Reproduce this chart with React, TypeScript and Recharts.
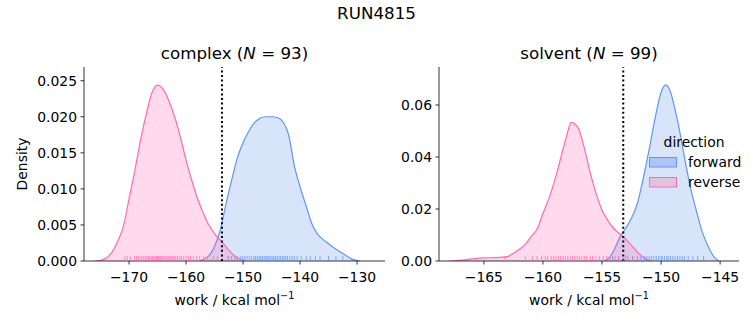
import { ComposedChart, Area, Scatter, XAxis, YAxis, ReferenceLine } from 'recharts';

// KDE curves (x = work, y = density)
const complexForwardX = [-157.5, -157, -156, -155, -154, -153, -152, -151, -150, -149, -148, -147, -146, -145, -144, -143, -142, -141, -140, -139, -138, -137, -136, -135, -134, -133, -132, -131, -130, -129.5];
const complexForwardY = [0, 0.0002, 0.0007, 0.002, 0.0043, 0.0079, 0.0112, 0.0143, 0.0164, 0.018, 0.0192, 0.0198, 0.02, 0.02, 0.0199, 0.0193, 0.0175, 0.0132, 0.0103, 0.0078, 0.0053, 0.0038, 0.003, 0.0024, 0.0018, 0.0013, 0.0008, 0.0003, 0.00005, 0];
const complexReverseX = [-176, -175, -174, -173, -172, -171, -170, -169, -168, -167, -166, -165, -164, -163, -162, -161, -160, -159, -158, -157, -156, -155, -154, -153, -152, -151, -150, -149.5];
const complexReverseY = [0, 0.0001, 0.0004, 0.0012, 0.0027, 0.0048, 0.0086, 0.0125, 0.0167, 0.0203, 0.0233, 0.0244, 0.0238, 0.0222, 0.02, 0.0172, 0.014, 0.0112, 0.0087, 0.0067, 0.005, 0.0038, 0.0029, 0.002, 0.0011, 0.0004, 0.0001, 0];

const solventForwardX = [-154.8, -154.4, -154, -153.5, -153, -152.5, -152, -151.5, -151, -150.5, -150, -149.6, -149.2, -148.8, -148.5, -148, -147.5, -147, -146.5, -146, -145.5, -145.1];
const solventForwardY = [0, 0.0012, 0.004, 0.009, 0.0125, 0.0165, 0.0222, 0.032, 0.043, 0.055, 0.0648, 0.0677, 0.065, 0.058, 0.0517, 0.0395, 0.028, 0.0192, 0.011, 0.0055, 0.0015, 0];
const solventReverseX = [-168, -167.5, -167, -166, -165, -164, -163, -162.5, -162, -161.5, -161, -160.5, -160, -159.5, -159, -158.5, -158, -157.6, -157, -156.5, -156, -155.5, -155, -154.5, -154, -153.5, -153, -152.5, -152, -151.5, -151, -150.7];
const solventReverseY = [0, 0.0001, 0.0003, 0.0008, 0.0012, 0.0013, 0.0017, 0.003, 0.0045, 0.0064, 0.0094, 0.0122, 0.0183, 0.024, 0.031, 0.0395, 0.048, 0.0533, 0.051, 0.0435, 0.034, 0.026, 0.0196, 0.0155, 0.0125, 0.0104, 0.0085, 0.006, 0.0035, 0.0014, 0.0002, 0];

// rug samples
const complexForwardRug = [-152.6, -152.0, -151.4, -151.0, -150.5, -150.1, -149.7, -149.3, -148.9, -148.5, -148.1, -147.8, -147.5, -147.2, -146.9, -146.6, -146.3, -146.0, -145.8, -145.5, -145.2, -144.9, -144.6, -144.3, -144.0, -143.7, -143.4, -143.1, -142.8, -142.5, -142.2, -141.8, -141.4, -141.0, -140.5, -139.8, -138.9, -138.2, -137.3, -136.5, -135.0, -133.7, -132.5];
const complexReverseRug = [-170.7, -170.3, -169.8, -169.0, -168.7, -168.4, -168.1, -167.8, -167.5, -167.2, -166.9, -166.6, -166.4, -166.1, -165.9, -165.6, -165.4, -165.2, -165.0, -164.8, -164.6, -164.4, -164.2, -164.0, -163.7, -163.5, -163.2, -163.0, -162.7, -162.4, -162.1, -161.8, -161.5, -161.1, -160.8, -160.4, -160.0, -159.6, -159.2, -158.7, -158.2, -157.6, -156.9, -156.3, -155.2, -154.5, -152.6];
const solventForwardRug = [-154.1, -153.6, -153.2, -152.8, -152.4, -152.0, -151.7, -151.4, -151.2, -151.0, -150.8, -150.6, -150.4, -150.2, -150.0, -149.9, -149.7, -149.5, -149.4, -149.2, -149.0, -148.8, -148.6, -148.4, -148.2, -148.0, -147.7, -147.3, -146.9, -146.4];
const solventReverseRug = [-163.2, -161.5, -160.9, -160.5, -160.1, -159.8, -159.6, -159.3, -159.1, -158.9, -158.7, -158.5, -158.3, -158.1, -157.9, -157.7, -157.5, -157.3, -157.1, -156.9, -156.7, -156.5, -156.3, -156.0, -155.8, -155.5, -155.2, -154.9, -154.6, -154.3, -153.9, -153.6, -153.0, -152.4];

const complexTicksX = [-170, -160, -150, -140, -130];
const complexTicksY = [0, 0.005, 0.01, 0.015, 0.02, 0.025];
const solventTicksX = [-165, -160, -155, -150, -145];
const solventTicksY = [0, 0.02, 0.04, 0.06];

const complexMean = -153.7;
const solventMean = -153.2;

const FWD = '#6495ED';
const REV = '#FF69B4';
const FONT = 'DejaVu Sans, sans-serif';

const toRows = (xs: number[], ys: number[]) => xs.map((x, i) => ({ x, y: ys[i] }));
const toRug = (xs: number[]) => xs.map((x) => ({ x, y: 0 }));
const minus = (v: number) => String(v).replace('-', '\u2212');

const rugShape = (color: string) => (props: any) => (
  <line x1={props.cx} x2={props.cx} y1={props.cy} y2={props.cy - 5} stroke={color} strokeOpacity={0.75} strokeWidth={1} />
);

const xLabel = (props: any) => {
  const vb = props.viewBox;
  return (
    <text x={vb.x + vb.width / 2} y={305} textAnchor="middle" fontSize={13.9} fontFamily={FONT} fill="#000">
      <tspan>work / kcal mol</tspan>
      <tspan fontSize={9.7} dy={-6}>{'\u22121'}</tspan>
    </text>
  );
};

const densityLabel = () => (
  <text x={22} y={164} transform="rotate(-90 22 164)" textAnchor="middle" dominantBaseline="central" fontSize={13.9} fontFamily={FONT} fill="#000">
    Density
  </text>
);

const tickStyle = { fill: '#000', fontSize: 13.9, fontFamily: FONT };

function Panel(props: {
  left: number; width: number; yAxisWidth: number; marginRight: number;
  domainX: [number, number]; domainY: [number, number]; ticksX: number[]; ticksY: number[]; digits: number;
  fwd: { x: number; y: number }[]; rev: { x: number; y: number }[];
  fwdRug: { x: number; y: number }[]; revRug: { x: number; y: number }[];
  mean: number; showYLabel: boolean;
}) {
  return (
    <div style={{ position: 'absolute', left: props.left, top: 0 }}>
      <ComposedChart width={props.width} height={325} margin={{ top: 67, right: props.marginRight, bottom: 24, left: 0 }}>
        <XAxis type="number" dataKey="x" domain={props.domainX} ticks={props.ticksX} allowDataOverflow
          tickFormatter={minus} tick={tickStyle} tickSize={3.5} tickMargin={8} height={40}
          axisLine={{ stroke: '#000', strokeWidth: 0.8 }} tickLine={{ stroke: '#000', strokeWidth: 0.8 }}
          label={xLabel} />
        <YAxis type="number" dataKey="y" domain={props.domainY} ticks={props.ticksY} allowDataOverflow
          tickFormatter={(v: number) => v.toFixed(props.digits)} tick={tickStyle} tickSize={3.5} tickMargin={3.5}
          width={props.yAxisWidth} axisLine={{ stroke: '#000', strokeWidth: 0.8 }} tickLine={{ stroke: '#000', strokeWidth: 0.8 }}
          label={props.showYLabel ? densityLabel : undefined} />
        <Area data={props.fwd} dataKey="y" type="monotone" stroke={FWD} strokeWidth={1.2} fill={FWD} fillOpacity={0.25} isAnimationActive={false} />
        <Area data={props.rev} dataKey="y" type="monotone" stroke={REV} strokeWidth={1.2} fill={REV} fillOpacity={0.25} isAnimationActive={false} />
        <Scatter data={props.fwdRug} dataKey="y" shape={rugShape(FWD)} isAnimationActive={false} />
        <Scatter data={props.revRug} dataKey="y" shape={rugShape(REV)} isAnimationActive={false} />
        <ReferenceLine x={props.mean} stroke="#000" strokeWidth={2} strokeDasharray="2 2.6" />
      </ComposedChart>
    </div>
  );
}

export default function App() {
  return (
    <div style={{ position: 'absolute', left: 0, top: 0, width: 753, height: 325, background: '#fff', fontFamily: FONT }}>
      <div style={{ position: 'absolute', left: 0, width: 753, top: 3, textAlign: 'center', fontSize: 16.7, lineHeight: '20px' }}>RUN4815</div>
      <div style={{ position: 'absolute', left: 84, width: 301, top: 43, textAlign: 'center', fontSize: 16.7, lineHeight: '20px' }}>
        complex (<i>N</i> = 93)
      </div>
      <div style={{ position: 'absolute', left: 439, width: 300, top: 43, textAlign: 'center', fontSize: 16.7, lineHeight: '20px' }}>
        solvent (<i>N</i> = 99)
      </div>
      <Panel left={0} width={400} yAxisWidth={84} marginRight={15}
        domainX={[-177.9, -125.1]} domainY={[0, 0.0269]} ticksX={complexTicksX} ticksY={complexTicksY} digits={3}
        fwd={toRows(complexForwardX, complexForwardY)} rev={toRows(complexReverseX, complexReverseY)}
        fwdRug={toRug(complexForwardRug)} revRug={toRug(complexReverseRug)}
        mean={complexMean} showYLabel />
      <Panel left={400} width={353} yAxisWidth={39} marginRight={14}
        domainX={[-168.8, -143.4]} domainY={[0, 0.0746]} ticksX={solventTicksX} ticksY={solventTicksY} digits={2}
        fwd={toRows(solventForwardX, solventForwardY)} rev={toRows(solventReverseX, solventReverseY)}
        fwdRug={toRug(solventForwardRug)} revRug={toRug(solventReverseRug)}
        mean={solventMean} showYLabel={false} />
      {/* legend for the direction hue */}
      <svg style={{ position: 'absolute', left: 649, top: 130 }} width={104} height={62}>
        <text x={45} y={12} textAnchor="middle" dominantBaseline="central" fontSize={13.9} fontFamily={FONT} fill="#000">direction</text>
        <rect x={0.5} y={27.5} width={27} height={9.5} fill={FWD} fillOpacity={0.38} stroke={FWD} strokeWidth={1} />
        <text x={39} y={32} dominantBaseline="central" fontSize={13.9} fontFamily={FONT} fill="#000">forward</text>
        <rect x={0.5} y={47.5} width={27} height={9.5} fill="#e2c3dd" stroke={REV} strokeWidth={1} />
        <text x={39} y={52} dominantBaseline="central" fontSize={13.9} fontFamily={FONT} fill="#000">reverse</text>
      </svg>
    </div>
  );
}
